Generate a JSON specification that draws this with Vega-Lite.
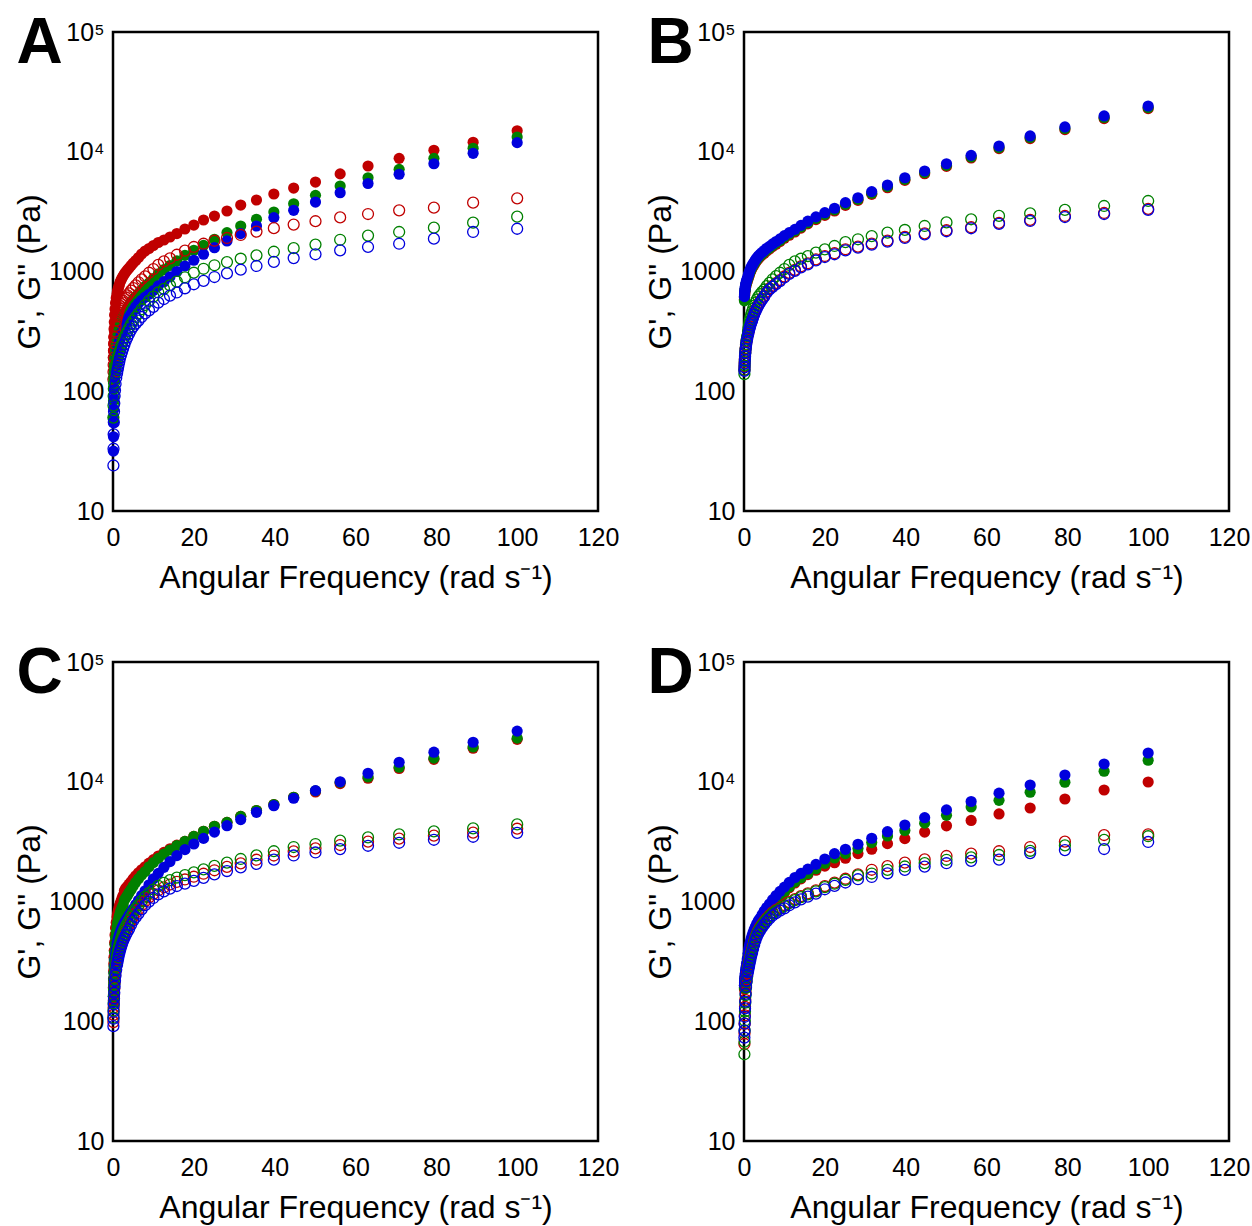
{
"$schema": "https://vega.github.io/schema/vega-lite/v6.json",
"padding": {"left": 12, "top": 10, "right": 0, "bottom": 0},
"background": "white",
"columns": 2,
"spacing": {"row": 45, "column": 22},
"config": {
  "view": {"stroke": "black", "strokeWidth": 2.5},
  "axis": {"domain": false, "ticks": false, "grid": false, "labelFont": "Liberation Sans", "labelFontSize": 25, "labelColor": "black", "titleFont": "Liberation Sans", "titleFontSize": 32, "titleFontWeight": "normal", "titleColor": "black"},
  "axisX": {"labelPadding": 14, "titlePadding": 12, "labelFlush": false},
  "axisY": {"labelPadding": 9, "titlePadding": 2},
  "title": {"font": "Liberation Sans", "fontSize": 64, "fontWeight": "bold", "color": "black", "anchor": "start", "frame": "bounds", "baseline": "top", "offset": -56, "dx": 3}
},
"data": {"values": [
{"panel":"A","omega":0.1,"red_Gp":190,"red_Gpp":126,"green_Gp":60.3,"green_Gpp":60.3,"blue_Gp":31.6,"blue_Gpp":24},
{"panel":"A","omega":0.126,"red_Gp":217,"red_Gpp":145,"green_Gp":83.2,"green_Gpp":75.9,"blue_Gp":41.7,"blue_Gpp":33.1},
{"panel":"A","omega":0.158,"red_Gp":248,"red_Gpp":166,"green_Gp":107,"green_Gpp":91.2,"blue_Gp":55,"blue_Gpp":43.7},
{"panel":"A","omega":0.2,"red_Gp":284,"red_Gpp":191,"green_Gp":129,"green_Gpp":105,"blue_Gp":70.8,"blue_Gpp":55},
{"panel":"A","omega":0.251,"red_Gp":331,"red_Gpp":219,"green_Gp":148,"green_Gpp":117,"blue_Gp":87.1,"blue_Gpp":67.6},
{"panel":"A","omega":0.316,"red_Gp":378,"red_Gpp":251,"green_Gp":166,"green_Gpp":129,"blue_Gp":105,"blue_Gpp":79.4},
{"panel":"A","omega":0.398,"red_Gp":434,"red_Gpp":282,"green_Gp":186,"green_Gpp":140,"blue_Gp":123,"blue_Gpp":91.2},
{"panel":"A","omega":0.501,"red_Gp":486,"red_Gpp":316,"green_Gp":204,"green_Gpp":150,"blue_Gp":141,"blue_Gpp":102},
{"panel":"A","omega":0.631,"red_Gp":546,"red_Gpp":351,"green_Gp":224,"green_Gpp":158,"blue_Gp":162,"blue_Gpp":115},
{"panel":"A","omega":0.794,"red_Gp":601,"red_Gpp":389,"green_Gp":245,"green_Gpp":168,"blue_Gp":182,"blue_Gpp":129},
{"panel":"A","omega":1,"red_Gp":649,"red_Gpp":422,"green_Gp":269,"green_Gpp":178,"blue_Gp":204,"blue_Gpp":141},
{"panel":"A","omega":1.12,"red_Gp":681,"red_Gpp":442,"green_Gp":282,"green_Gpp":186,"blue_Gp":216,"blue_Gpp":150},
{"panel":"A","omega":1.26,"red_Gp":714,"red_Gpp":459,"green_Gp":299,"green_Gpp":195,"blue_Gp":229,"blue_Gpp":158},
{"panel":"A","omega":1.41,"red_Gp":743,"red_Gpp":479,"green_Gp":316,"green_Gpp":204,"blue_Gp":245,"blue_Gpp":168},
{"panel":"A","omega":1.58,"red_Gp":778,"red_Gpp":498,"green_Gp":331,"green_Gpp":214,"blue_Gp":260,"blue_Gpp":178},
{"panel":"A","omega":1.78,"red_Gp":817,"red_Gpp":516,"green_Gp":351,"green_Gpp":224,"blue_Gp":275,"blue_Gpp":191},
{"panel":"A","omega":2,"red_Gp":849,"red_Gpp":535,"green_Gp":372,"green_Gpp":237,"blue_Gp":292,"blue_Gpp":202},
{"panel":"A","omega":2.24,"red_Gp":883,"red_Gpp":552,"green_Gp":394,"green_Gpp":251,"blue_Gp":309,"blue_Gpp":214},
{"panel":"A","omega":2.51,"red_Gp":916,"red_Gpp":570,"green_Gp":417,"green_Gpp":266,"blue_Gp":327,"blue_Gpp":229},
{"panel":"A","omega":2.82,"red_Gp":953,"red_Gpp":589,"green_Gp":442,"green_Gpp":282,"blue_Gp":347,"blue_Gpp":245},
{"panel":"A","omega":3.16,"red_Gp":991,"red_Gpp":607,"green_Gp":462,"green_Gpp":299,"blue_Gp":367,"blue_Gpp":263},
{"panel":"A","omega":3.55,"red_Gp":1030,"red_Gpp":631,"green_Gp":490,"green_Gpp":316,"blue_Gp":389,"blue_Gpp":282},
{"panel":"A","omega":3.98,"red_Gp":1069,"red_Gpp":658,"green_Gp":519,"green_Gpp":339,"blue_Gp":417,"blue_Gpp":302},
{"panel":"A","omega":4.47,"red_Gp":1122,"red_Gpp":692,"green_Gp":550,"green_Gpp":363,"blue_Gp":442,"blue_Gpp":324},
{"panel":"A","omega":5.01,"red_Gp":1178,"red_Gpp":728,"green_Gp":582,"green_Gpp":389,"blue_Gp":473,"blue_Gpp":347},
{"panel":"A","omega":5.62,"red_Gp":1236,"red_Gpp":767,"green_Gp":617,"green_Gpp":417,"blue_Gp":507,"blue_Gpp":367},
{"panel":"A","omega":6.31,"red_Gp":1309,"red_Gpp":813,"green_Gp":653,"green_Gpp":447,"blue_Gp":543,"blue_Gpp":389},
{"panel":"A","omega":7.08,"red_Gp":1400,"red_Gpp":861,"green_Gp":700,"green_Gpp":484,"blue_Gp":575,"blue_Gpp":417},
{"panel":"A","omega":7.94,"red_Gp":1483,"red_Gpp":912,"green_Gp":750,"green_Gpp":525,"blue_Gp":610,"blue_Gpp":447},
{"panel":"A","omega":8.91,"red_Gp":1556,"red_Gpp":977,"green_Gp":804,"green_Gpp":569,"blue_Gp":646,"blue_Gpp":473},
{"panel":"A","omega":10,"red_Gp":1648,"red_Gpp":1047,"green_Gp":871,"green_Gpp":617,"blue_Gp":692,"blue_Gpp":507},
{"panel":"A","omega":11.2,"red_Gp":1746,"red_Gpp":1135,"green_Gp":955,"green_Gpp":668,"blue_Gp":759,"blue_Gpp":550},
{"panel":"A","omega":12.6,"red_Gp":1832,"red_Gpp":1216,"green_Gp":1035,"green_Gpp":716,"blue_Gp":822,"blue_Gpp":589},
{"panel":"A","omega":14.1,"red_Gp":1941,"red_Gpp":1288,"green_Gp":1122,"green_Gpp":767,"blue_Gp":902,"blue_Gpp":628},
{"panel":"A","omega":15.8,"red_Gp":2075,"red_Gpp":1380,"green_Gp":1225,"green_Gpp":822,"blue_Gp":1000,"blue_Gpp":668},
{"panel":"A","omega":17.8,"red_Gp":2265,"red_Gpp":1496,"green_Gp":1365,"green_Gpp":895,"blue_Gp":1112,"blue_Gpp":724},
{"panel":"A","omega":20,"red_Gp":2443,"red_Gpp":1603,"green_Gp":1503,"green_Gpp":977,"blue_Gp":1242,"blue_Gpp":782},
{"panel":"A","omega":22.4,"red_Gp":2692,"red_Gpp":1706,"green_Gp":1656,"green_Gpp":1054,"blue_Gp":1393,"blue_Gpp":834},
{"panel":"A","omega":25.1,"red_Gp":2904,"red_Gpp":1807,"green_Gp":1858,"green_Gpp":1127,"blue_Gp":1581,"blue_Gpp":899},
{"panel":"A","omega":28.2,"red_Gp":3199,"red_Gpp":1905,"green_Gp":2109,"green_Gpp":1199,"blue_Gp":1799,"blue_Gpp":966},
{"panel":"A","omega":31.6,"red_Gp":3589,"red_Gpp":2018,"green_Gp":2399,"green_Gpp":1279,"blue_Gp":2070,"blue_Gpp":1035},
{"panel":"A","omega":35.5,"red_Gp":3954,"red_Gpp":2153,"green_Gp":2729,"green_Gpp":1365,"blue_Gp":2399,"blue_Gpp":1112},
{"panel":"A","omega":39.8,"red_Gp":4436,"red_Gpp":2301,"green_Gp":3141,"green_Gpp":1462,"blue_Gp":2818,"blue_Gpp":1202},
{"panel":"A","omega":44.7,"red_Gp":4977,"red_Gpp":2466,"green_Gp":3681,"green_Gpp":1567,"blue_Gp":3243,"blue_Gpp":1294},
{"panel":"A","omega":50.1,"red_Gp":5585,"red_Gpp":2630,"green_Gp":4325,"green_Gpp":1679,"blue_Gp":3802,"blue_Gpp":1393},
{"panel":"A","omega":56.2,"red_Gp":6531,"red_Gpp":2831,"green_Gp":5176,"green_Gpp":1841,"blue_Gp":4550,"blue_Gpp":1503},
{"panel":"A","omega":63.1,"red_Gp":7603,"red_Gpp":3020,"green_Gp":6067,"green_Gpp":1995,"blue_Gp":5433,"blue_Gpp":1603},
{"panel":"A","omega":70.8,"red_Gp":8810,"red_Gpp":3243,"green_Gp":7129,"green_Gpp":2138,"blue_Gp":6486,"blue_Gpp":1706},
{"panel":"A","omega":79.4,"red_Gp":10280,"red_Gpp":3412,"green_Gp":8810,"green_Gpp":2323,"blue_Gp":7943,"blue_Gpp":1879},
{"panel":"A","omega":89.1,"red_Gp":11990,"red_Gpp":3758,"green_Gp":10690,"green_Gpp":2559,"blue_Gp":9705,"blue_Gpp":2138},
{"panel":"A","omega":100,"red_Gp":14960,"red_Gpp":4083,"green_Gp":13270,"green_Gpp":2871,"blue_Gp":11910,"blue_Gpp":2275},
{"panel":"B","omega":0.1,"red_Gp":586,"red_Gpp":151,"green_Gp":569,"green_Gpp":139,"blue_Gp":617,"blue_Gpp":148},
{"panel":"B","omega":0.126,"red_Gp":609,"red_Gpp":161,"green_Gp":603,"green_Gpp":151,"blue_Gp":641,"blue_Gpp":158},
{"panel":"B","omega":0.158,"red_Gp":632,"red_Gpp":173,"green_Gp":638,"green_Gpp":164,"blue_Gp":665,"blue_Gpp":170},
{"panel":"B","omega":0.2,"red_Gp":657,"red_Gpp":186,"green_Gp":676,"green_Gpp":178,"blue_Gp":692,"blue_Gpp":182},
{"panel":"B","omega":0.251,"red_Gp":683,"red_Gpp":199,"green_Gp":697,"green_Gpp":193,"blue_Gp":719,"blue_Gpp":195},
{"panel":"B","omega":0.316,"red_Gp":709,"red_Gpp":213,"green_Gp":724,"green_Gpp":209,"blue_Gp":746,"blue_Gpp":209},
{"panel":"B","omega":0.398,"red_Gp":737,"red_Gpp":228,"green_Gp":753,"green_Gpp":226,"blue_Gp":776,"blue_Gpp":224},
{"panel":"B","omega":0.501,"red_Gp":767,"red_Gpp":245,"green_Gp":783,"green_Gpp":245,"blue_Gp":807,"blue_Gpp":240},
{"panel":"B","omega":0.631,"red_Gp":796,"red_Gpp":262,"green_Gp":813,"green_Gpp":266,"blue_Gp":838,"blue_Gpp":257},
{"panel":"B","omega":0.794,"red_Gp":827,"red_Gpp":281,"green_Gp":845,"green_Gpp":288,"blue_Gp":871,"blue_Gpp":275},
{"panel":"B","omega":1,"red_Gp":866,"red_Gpp":301,"green_Gp":885,"green_Gpp":316,"blue_Gp":912,"blue_Gpp":295},
{"panel":"B","omega":1.12,"red_Gp":897,"red_Gpp":315,"green_Gp":916,"green_Gpp":339,"blue_Gp":944,"blue_Gpp":309},
{"panel":"B","omega":1.26,"red_Gp":928,"red_Gpp":330,"green_Gp":948,"green_Gpp":363,"blue_Gp":977,"blue_Gpp":324},
{"panel":"B","omega":1.41,"red_Gp":961,"red_Gpp":346,"green_Gp":982,"green_Gpp":389,"blue_Gp":1012,"blue_Gpp":339},
{"panel":"B","omega":1.58,"red_Gp":995,"red_Gpp":362,"green_Gp":1016,"green_Gpp":412,"blue_Gp":1047,"blue_Gpp":355},
{"panel":"B","omega":1.78,"red_Gp":1030,"red_Gpp":379,"green_Gp":1051,"green_Gpp":437,"blue_Gp":1084,"blue_Gpp":372},
{"panel":"B","omega":2,"red_Gp":1066,"red_Gpp":397,"green_Gp":1088,"green_Gpp":462,"blue_Gp":1122,"blue_Gpp":389},
{"panel":"B","omega":2.24,"red_Gp":1103,"red_Gpp":420,"green_Gp":1126,"green_Gpp":490,"blue_Gp":1161,"blue_Gpp":412},
{"panel":"B","omega":2.51,"red_Gp":1142,"red_Gpp":446,"green_Gp":1166,"green_Gpp":519,"blue_Gp":1202,"blue_Gpp":437},
{"panel":"B","omega":2.82,"red_Gp":1188,"red_Gpp":471,"green_Gp":1213,"green_Gpp":550,"blue_Gp":1250,"blue_Gpp":462},
{"panel":"B","omega":3.16,"red_Gp":1232,"red_Gpp":500,"green_Gp":1258,"green_Gpp":582,"blue_Gp":1297,"blue_Gpp":490},
{"panel":"B","omega":3.55,"red_Gp":1279,"red_Gpp":529,"green_Gp":1306,"green_Gpp":617,"blue_Gp":1346,"blue_Gpp":519},
{"panel":"B","omega":3.98,"red_Gp":1326,"red_Gpp":561,"green_Gp":1354,"green_Gpp":646,"blue_Gp":1396,"blue_Gpp":550},
{"panel":"B","omega":4.47,"red_Gp":1373,"red_Gpp":594,"green_Gp":1402,"green_Gpp":676,"blue_Gp":1445,"blue_Gpp":582},
{"panel":"B","omega":5.01,"red_Gp":1421,"red_Gpp":629,"green_Gp":1451,"green_Gpp":708,"blue_Gp":1496,"blue_Gpp":617},
{"panel":"B","omega":5.62,"red_Gp":1485,"red_Gpp":678,"green_Gp":1516,"green_Gpp":755,"blue_Gp":1563,"blue_Gpp":665},
{"panel":"B","omega":6.31,"red_Gp":1541,"red_Gpp":722,"green_Gp":1573,"green_Gpp":804,"blue_Gp":1622,"blue_Gpp":708},
{"panel":"B","omega":7.08,"red_Gp":1613,"red_Gpp":760,"green_Gp":1647,"green_Gpp":861,"blue_Gp":1698,"blue_Gpp":745},
{"panel":"B","omega":7.94,"red_Gp":1689,"red_Gpp":801,"green_Gp":1725,"green_Gpp":916,"blue_Gp":1778,"blue_Gpp":785},
{"panel":"B","omega":8.91,"red_Gp":1777,"red_Gpp":849,"green_Gp":1815,"green_Gpp":977,"blue_Gp":1871,"blue_Gpp":832},
{"panel":"B","omega":10,"red_Gp":1895,"red_Gpp":909,"green_Gp":1935,"green_Gpp":1047,"blue_Gp":1995,"blue_Gpp":891},
{"panel":"B","omega":11.2,"red_Gp":2007,"red_Gpp":974,"green_Gp":2050,"green_Gpp":1135,"blue_Gp":2113,"blue_Gpp":955},
{"panel":"B","omega":12.6,"red_Gp":2137,"red_Gpp":1032,"green_Gp":2182,"green_Gpp":1216,"blue_Gp":2249,"blue_Gpp":1012},
{"panel":"B","omega":14.1,"red_Gp":2306,"red_Gpp":1106,"green_Gp":2354,"green_Gpp":1279,"blue_Gp":2427,"blue_Gpp":1084},
{"panel":"B","omega":15.8,"red_Gp":2499,"red_Gpp":1171,"green_Gp":2551,"green_Gpp":1346,"blue_Gp":2630,"blue_Gpp":1148},
{"panel":"B","omega":17.8,"red_Gp":2715,"red_Gpp":1261,"green_Gp":2772,"green_Gpp":1436,"blue_Gp":2858,"blue_Gpp":1236},
{"panel":"B","omega":20,"red_Gp":2942,"red_Gpp":1347,"green_Gp":3004,"green_Gpp":1531,"blue_Gp":3097,"blue_Gpp":1321},
{"panel":"B","omega":22.4,"red_Gp":3204,"red_Gpp":1421,"green_Gp":3272,"green_Gpp":1633,"blue_Gp":3373,"blue_Gpp":1393},
{"panel":"B","omega":25.1,"red_Gp":3570,"red_Gpp":1533,"green_Gp":3645,"green_Gpp":1758,"blue_Gp":3758,"blue_Gpp":1503},
{"panel":"B","omega":28.2,"red_Gp":3924,"red_Gpp":1613,"green_Gp":4006,"green_Gpp":1858,"blue_Gp":4130,"blue_Gpp":1581},
{"panel":"B","omega":31.6,"red_Gp":4413,"red_Gpp":1713,"green_Gp":4506,"green_Gpp":1977,"blue_Gp":4645,"blue_Gpp":1679},
{"panel":"B","omega":35.5,"red_Gp":5008,"red_Gpp":1814,"green_Gp":5114,"green_Gpp":2109,"blue_Gp":5272,"blue_Gpp":1778},
{"panel":"B","omega":39.8,"red_Gp":5764,"red_Gpp":1943,"green_Gp":5885,"green_Gpp":2223,"blue_Gp":6067,"blue_Gpp":1905},
{"panel":"B","omega":44.7,"red_Gp":6557,"red_Gpp":2083,"green_Gp":6695,"green_Gpp":2399,"blue_Gp":6902,"blue_Gpp":2042},
{"panel":"B","omega":50.1,"red_Gp":7546,"red_Gpp":2211,"green_Gp":7705,"green_Gpp":2570,"blue_Gp":7943,"blue_Gpp":2168},
{"panel":"B","omega":56.2,"red_Gp":8866,"red_Gpp":2342,"green_Gp":9053,"green_Gpp":2729,"blue_Gp":9333,"blue_Gpp":2296},
{"panel":"B","omega":63.1,"red_Gp":10610,"red_Gpp":2545,"green_Gp":10835,"green_Gpp":2911,"blue_Gp":11170,"blue_Gpp":2495},
{"panel":"B","omega":70.8,"red_Gp":12870,"red_Gpp":2695,"green_Gp":13144,"green_Gpp":3055,"blue_Gp":13550,"blue_Gpp":2642},
{"panel":"B","omega":79.4,"red_Gp":15300,"red_Gpp":2908,"green_Gp":15627,"green_Gpp":3266,"blue_Gp":16110,"blue_Gpp":2851},
{"panel":"B","omega":89.1,"red_Gp":18910,"red_Gpp":3080,"green_Gp":19313,"green_Gpp":3524,"blue_Gp":19910,"blue_Gpp":3020},
{"panel":"B","omega":100,"red_Gp":22900,"red_Gpp":3331,"green_Gp":23377,"green_Gpp":3882,"blue_Gp":24100,"blue_Gpp":3266},
{"panel":"C","omega":0.1,"red_Gp":192,"red_Gpp":98.4,"green_Gp":160,"green_Gpp":107,"blue_Gp":143,"blue_Gpp":91},
{"panel":"C","omega":0.126,"red_Gp":226,"red_Gpp":113,"green_Gp":188,"green_Gpp":123,"blue_Gp":162,"blue_Gpp":105},
{"panel":"C","omega":0.158,"red_Gp":263,"red_Gpp":130,"green_Gp":219,"green_Gpp":141,"blue_Gp":182,"blue_Gpp":120},
{"panel":"C","omega":0.2,"red_Gp":302,"red_Gpp":149,"green_Gp":251,"green_Gpp":162,"blue_Gp":204,"blue_Gpp":138},
{"panel":"C","omega":0.251,"red_Gp":343,"red_Gpp":167,"green_Gp":285,"green_Gpp":182,"blue_Gp":229,"blue_Gpp":155},
{"panel":"C","omega":0.316,"red_Gp":389,"red_Gpp":188,"green_Gp":324,"green_Gpp":204,"blue_Gp":257,"blue_Gpp":173},
{"panel":"C","omega":0.398,"red_Gp":452,"red_Gpp":211,"green_Gp":376,"green_Gpp":229,"blue_Gp":288,"blue_Gpp":195},
{"panel":"C","omega":0.501,"red_Gp":525,"red_Gpp":236,"green_Gp":437,"green_Gpp":257,"blue_Gp":324,"blue_Gpp":218},
{"panel":"C","omega":0.631,"red_Gp":602,"red_Gpp":262,"green_Gp":501,"green_Gpp":285,"blue_Gp":363,"blue_Gpp":242},
{"panel":"C","omega":0.794,"red_Gp":668,"red_Gpp":291,"green_Gp":556,"green_Gpp":316,"blue_Gp":398,"blue_Gpp":269},
{"panel":"C","omega":1,"red_Gp":742,"red_Gpp":319,"green_Gp":617,"green_Gpp":347,"blue_Gp":437,"blue_Gpp":295},
{"panel":"C","omega":1.12,"red_Gp":781,"red_Gpp":338,"green_Gp":650,"green_Gpp":367,"blue_Gp":457,"blue_Gpp":312},
{"panel":"C","omega":1.26,"red_Gp":822,"red_Gpp":358,"green_Gp":684,"green_Gpp":389,"blue_Gp":479,"blue_Gpp":331},
{"panel":"C","omega":1.41,"red_Gp":864,"red_Gpp":379,"green_Gp":719,"green_Gpp":412,"blue_Gp":501,"blue_Gpp":350},
{"panel":"C","omega":1.58,"red_Gp":912,"red_Gpp":402,"green_Gp":759,"green_Gpp":437,"blue_Gp":525,"blue_Gpp":371},
{"panel":"C","omega":1.78,"red_Gp":962,"red_Gpp":425,"green_Gp":800,"green_Gpp":462,"blue_Gp":550,"blue_Gpp":393},
{"panel":"C","omega":2,"red_Gp":1011,"red_Gpp":451,"green_Gp":841,"green_Gpp":490,"blue_Gp":575,"blue_Gpp":417},
{"panel":"C","omega":2.24,"red_Gp":1066,"red_Gpp":477,"green_Gp":887,"green_Gpp":519,"blue_Gp":603,"blue_Gpp":441},
{"panel":"C","omega":2.51,"red_Gp":1121,"red_Gpp":506,"green_Gp":933,"green_Gpp":550,"blue_Gp":631,"blue_Gpp":468},
{"panel":"C","omega":2.82,"red_Gp":1230,"red_Gpp":535,"green_Gp":1023,"green_Gpp":582,"blue_Gp":661,"blue_Gpp":495},
{"panel":"C","omega":3.16,"red_Gp":1289,"red_Gpp":568,"green_Gp":1072,"green_Gpp":617,"blue_Gp":692,"blue_Gpp":524},
{"panel":"C","omega":3.55,"red_Gp":1334,"red_Gpp":601,"green_Gp":1122,"green_Gpp":653,"blue_Gp":724,"blue_Gpp":555},
{"panel":"C","omega":3.98,"red_Gp":1397,"red_Gpp":637,"green_Gp":1189,"green_Gpp":692,"blue_Gp":767,"blue_Gpp":588},
{"panel":"C","omega":4.47,"red_Gp":1462,"red_Gpp":690,"green_Gp":1259,"green_Gpp":750,"blue_Gp":813,"blue_Gpp":638},
{"panel":"C","omega":5.01,"red_Gp":1549,"red_Gpp":748,"green_Gp":1349,"green_Gpp":813,"blue_Gp":871,"blue_Gpp":691},
{"panel":"C","omega":5.62,"red_Gp":1640,"red_Gpp":801,"green_Gp":1445,"green_Gpp":871,"blue_Gp":944,"blue_Gpp":740},
{"panel":"C","omega":6.31,"red_Gp":1738,"red_Gpp":858,"green_Gp":1549,"green_Gpp":933,"blue_Gp":1023,"blue_Gpp":793},
{"panel":"C","omega":7.08,"red_Gp":1841,"red_Gpp":931,"green_Gp":1660,"green_Gpp":1012,"blue_Gp":1122,"blue_Gpp":860},
{"panel":"C","omega":7.94,"red_Gp":1949,"red_Gpp":1008,"green_Gp":1778,"green_Gpp":1096,"blue_Gp":1230,"blue_Gpp":932},
{"panel":"C","omega":8.91,"red_Gp":2090,"red_Gpp":1081,"green_Gp":1950,"green_Gpp":1175,"blue_Gp":1380,"blue_Gpp":999},
{"panel":"C","omega":10,"red_Gp":2238,"red_Gpp":1158,"green_Gp":2113,"green_Gpp":1259,"blue_Gp":1549,"blue_Gpp":1070},
{"panel":"C","omega":11.2,"red_Gp":2399,"red_Gpp":1241,"green_Gp":2291,"green_Gpp":1349,"blue_Gp":1718,"blue_Gpp":1147},
{"panel":"C","omega":12.6,"red_Gp":2570,"red_Gpp":1315,"green_Gp":2483,"green_Gpp":1429,"blue_Gp":1928,"blue_Gpp":1215},
{"panel":"C","omega":14.1,"red_Gp":2754,"red_Gpp":1386,"green_Gp":2692,"green_Gpp":1507,"blue_Gp":2153,"blue_Gpp":1281},
{"panel":"C","omega":15.8,"red_Gp":2959,"red_Gpp":1458,"green_Gp":2924,"green_Gpp":1585,"blue_Gp":2415,"blue_Gpp":1347},
{"panel":"C","omega":17.8,"red_Gp":3177,"red_Gpp":1527,"green_Gp":3177,"green_Gpp":1660,"blue_Gp":2710,"blue_Gpp":1411},
{"panel":"C","omega":20,"red_Gp":3499,"red_Gpp":1610,"green_Gp":3499,"green_Gpp":1750,"blue_Gp":3020,"blue_Gpp":1488},
{"panel":"C","omega":22.4,"red_Gp":3855,"red_Gpp":1706,"green_Gp":3855,"green_Gpp":1854,"blue_Gp":3365,"blue_Gpp":1576},
{"panel":"C","omega":25.1,"red_Gp":4246,"red_Gpp":1823,"green_Gp":4246,"green_Gpp":1982,"blue_Gp":3802,"blue_Gpp":1685},
{"panel":"C","omega":28.2,"red_Gp":4581,"red_Gpp":1944,"green_Gp":4581,"green_Gpp":2113,"blue_Gp":4295,"blue_Gpp":1796},
{"panel":"C","omega":31.6,"red_Gp":5140,"red_Gpp":2084,"green_Gp":5140,"green_Gpp":2265,"blue_Gp":4831,"blue_Gpp":1925},
{"panel":"C","omega":35.5,"red_Gp":5754,"red_Gpp":2233,"green_Gp":5754,"green_Gpp":2427,"blue_Gp":5559,"blue_Gpp":2063},
{"panel":"C","omega":39.8,"red_Gp":6457,"red_Gpp":2420,"green_Gp":6457,"green_Gpp":2630,"blue_Gp":6310,"blue_Gpp":2236},
{"panel":"C","omega":44.7,"red_Gp":7413,"red_Gpp":2623,"green_Gp":7413,"green_Gpp":2851,"blue_Gp":7278,"blue_Gpp":2423},
{"panel":"C","omega":50.1,"red_Gp":8221,"red_Gpp":2778,"green_Gp":8414,"green_Gpp":3020,"blue_Gp":8433,"blue_Gpp":2567},
{"panel":"C","omega":56.2,"red_Gp":9659,"red_Gpp":2963,"green_Gp":9886,"green_Gpp":3221,"blue_Gp":10000,"blue_Gpp":2738},
{"panel":"C","omega":63.1,"red_Gp":10710,"red_Gpp":3161,"green_Gp":10960,"green_Gpp":3436,"blue_Gp":11780,"blue_Gpp":2921},
{"panel":"C","omega":70.8,"red_Gp":12910,"red_Gpp":3348,"green_Gp":13210,"green_Gpp":3639,"blue_Gp":14550,"blue_Gpp":3093},
{"panel":"C","omega":79.4,"red_Gp":15380,"red_Gpp":3547,"green_Gp":15740,"green_Gpp":3855,"blue_Gp":17660,"blue_Gpp":3277},
{"panel":"C","omega":89.1,"red_Gp":19050,"red_Gpp":3756,"green_Gp":19500,"green_Gpp":4083,"blue_Gp":21380,"blue_Gpp":3471},
{"panel":"C","omega":100,"red_Gp":22590,"red_Gpp":4054,"green_Gp":23120,"green_Gpp":4406,"blue_Gp":26490,"blue_Gpp":3745},
{"panel":"D","omega":0.1,"red_Gp":186,"red_Gpp":64.6,"green_Gp":190,"green_Gpp":53,"blue_Gp":200,"blue_Gpp":73},
{"panel":"D","omega":0.126,"red_Gp":194,"red_Gpp":79.4,"green_Gp":199,"green_Gpp":67.5,"blue_Gp":209,"blue_Gpp":83.4},
{"panel":"D","omega":0.158,"red_Gp":204,"red_Gpp":95.5,"green_Gp":208,"green_Gpp":84,"blue_Gp":219,"blue_Gpp":95.5},
{"panel":"D","omega":0.2,"red_Gp":213,"red_Gpp":112,"green_Gp":218,"green_Gpp":101,"blue_Gp":229,"blue_Gpp":109},
{"panel":"D","omega":0.251,"red_Gp":223,"red_Gpp":132,"green_Gp":228,"green_Gpp":121,"blue_Gp":240,"blue_Gpp":128},
{"panel":"D","omega":0.316,"red_Gp":233,"red_Gpp":151,"green_Gp":238,"green_Gpp":143,"blue_Gp":251,"blue_Gpp":146},
{"panel":"D","omega":0.398,"red_Gp":247,"red_Gpp":174,"green_Gp":253,"green_Gpp":165,"blue_Gp":266,"blue_Gpp":169},
{"panel":"D","omega":0.501,"red_Gp":262,"red_Gpp":200,"green_Gp":268,"green_Gpp":190,"blue_Gp":282,"blue_Gpp":194},
{"panel":"D","omega":0.631,"red_Gp":281,"red_Gpp":224,"green_Gp":287,"green_Gpp":213,"blue_Gp":302,"blue_Gpp":217},
{"panel":"D","omega":0.794,"red_Gp":308,"red_Gpp":251,"green_Gp":314,"green_Gpp":238,"blue_Gp":331,"blue_Gpp":243},
{"panel":"D","omega":1,"red_Gp":330,"red_Gpp":275,"green_Gp":349,"green_Gpp":270,"blue_Gp":367,"blue_Gpp":259},
{"panel":"D","omega":1.12,"red_Gp":350,"red_Gpp":292,"green_Gp":370,"green_Gpp":286,"blue_Gp":389,"blue_Gpp":274},
{"panel":"D","omega":1.26,"red_Gp":371,"red_Gpp":309,"green_Gp":391,"green_Gpp":303,"blue_Gp":412,"blue_Gpp":290},
{"panel":"D","omega":1.41,"red_Gp":393,"red_Gpp":327,"green_Gp":415,"green_Gpp":320,"blue_Gp":437,"blue_Gpp":307},
{"panel":"D","omega":1.58,"red_Gp":416,"red_Gpp":347,"green_Gp":439,"green_Gpp":340,"blue_Gp":462,"blue_Gpp":326},
{"panel":"D","omega":1.78,"red_Gp":441,"red_Gpp":372,"green_Gp":466,"green_Gpp":365,"blue_Gp":490,"blue_Gpp":350},
{"panel":"D","omega":2,"red_Gp":467,"red_Gpp":398,"green_Gp":493,"green_Gpp":390,"blue_Gp":519,"blue_Gpp":374},
{"panel":"D","omega":2.24,"red_Gp":495,"red_Gpp":427,"green_Gp":523,"green_Gpp":418,"blue_Gp":550,"blue_Gpp":401},
{"panel":"D","omega":2.51,"red_Gp":524,"red_Gpp":462,"green_Gp":553,"green_Gpp":453,"blue_Gp":582,"blue_Gpp":434},
{"panel":"D","omega":2.82,"red_Gp":555,"red_Gpp":501,"green_Gp":586,"green_Gpp":491,"blue_Gp":617,"blue_Gpp":471},
{"panel":"D","omega":3.16,"red_Gp":588,"red_Gpp":537,"green_Gp":620,"green_Gpp":526,"blue_Gp":653,"blue_Gpp":505},
{"panel":"D","omega":3.55,"red_Gp":623,"red_Gpp":575,"green_Gp":657,"green_Gpp":564,"blue_Gp":692,"blue_Gpp":541},
{"panel":"D","omega":3.98,"red_Gp":652,"red_Gpp":610,"green_Gp":688,"green_Gpp":598,"blue_Gp":724,"blue_Gpp":573},
{"panel":"D","omega":4.47,"red_Gp":698,"red_Gpp":646,"green_Gp":737,"green_Gpp":633,"blue_Gp":776,"blue_Gpp":607},
{"panel":"D","omega":5.01,"red_Gp":749,"red_Gpp":684,"green_Gp":790,"green_Gpp":670,"blue_Gp":832,"blue_Gpp":643},
{"panel":"D","omega":5.62,"red_Gp":802,"red_Gpp":724,"green_Gp":846,"green_Gpp":710,"blue_Gp":891,"blue_Gpp":681},
{"panel":"D","omega":6.31,"red_Gp":860,"red_Gpp":767,"green_Gp":907,"green_Gpp":752,"blue_Gp":955,"blue_Gpp":721},
{"panel":"D","omega":7.08,"red_Gp":932,"red_Gpp":813,"green_Gp":983,"green_Gpp":797,"blue_Gp":1035,"blue_Gpp":764},
{"panel":"D","omega":7.94,"red_Gp":1010,"red_Gpp":851,"green_Gp":1066,"green_Gpp":834,"blue_Gp":1122,"blue_Gpp":800},
{"panel":"D","omega":8.91,"red_Gp":1094,"red_Gpp":891,"green_Gp":1155,"green_Gpp":873,"blue_Gp":1216,"blue_Gpp":838},
{"panel":"D","omega":10,"red_Gp":1186,"red_Gpp":933,"green_Gp":1213,"green_Gpp":914,"blue_Gp":1318,"blue_Gpp":877},
{"panel":"D","omega":11.2,"red_Gp":1301,"red_Gpp":989,"green_Gp":1329,"green_Gpp":969,"blue_Gp":1445,"blue_Gpp":930},
{"panel":"D","omega":12.6,"red_Gp":1427,"red_Gpp":1047,"green_Gp":1458,"green_Gpp":1026,"blue_Gp":1585,"blue_Gpp":984},
{"panel":"D","omega":14.1,"red_Gp":1546,"red_Gpp":1109,"green_Gp":1581,"green_Gpp":1087,"blue_Gp":1718,"blue_Gpp":1042},
{"panel":"D","omega":15.8,"red_Gp":1676,"red_Gpp":1169,"green_Gp":1713,"green_Gpp":1146,"blue_Gp":1862,"blue_Gpp":1099},
{"panel":"D","omega":17.8,"red_Gp":1824,"red_Gpp":1239,"green_Gp":1879,"green_Gpp":1214,"blue_Gp":2042,"blue_Gpp":1165},
{"panel":"D","omega":20,"red_Gp":1977,"red_Gpp":1346,"green_Gp":2084,"green_Gpp":1319,"blue_Gp":2265,"blue_Gpp":1265},
{"panel":"D","omega":22.4,"red_Gp":2109,"red_Gpp":1436,"green_Gp":2311,"green_Gpp":1407,"blue_Gp":2512,"blue_Gpp":1350},
{"panel":"D","omega":25.1,"red_Gp":2296,"red_Gpp":1549,"green_Gp":2511,"green_Gpp":1518,"blue_Gp":2729,"blue_Gpp":1441},
{"panel":"D","omega":28.2,"red_Gp":2512,"red_Gpp":1687,"green_Gp":2766,"green_Gpp":1653,"blue_Gp":3006,"blue_Gpp":1535},
{"panel":"D","omega":31.6,"red_Gp":2735,"red_Gpp":1841,"green_Gp":3103,"green_Gpp":1712,"blue_Gp":3373,"blue_Gpp":1602},
{"panel":"D","omega":35.5,"red_Gp":3041,"red_Gpp":1977,"green_Gp":3522,"green_Gpp":1839,"blue_Gp":3828,"blue_Gpp":1720},
{"panel":"D","omega":39.8,"red_Gp":3350,"red_Gpp":2109,"green_Gp":3920,"green_Gpp":1961,"blue_Gp":4355,"blue_Gpp":1835},
{"panel":"D","omega":44.7,"red_Gp":3802,"red_Gpp":2249,"green_Gp":4511,"green_Gpp":2092,"blue_Gp":5012,"blue_Gpp":1957},
{"panel":"D","omega":50.1,"red_Gp":4285,"red_Gpp":2399,"green_Gp":5239,"green_Gpp":2231,"blue_Gp":5821,"blue_Gpp":2087},
{"panel":"D","omega":56.2,"red_Gp":4753,"red_Gpp":2512,"green_Gp":6155,"green_Gpp":2336,"blue_Gp":6839,"blue_Gpp":2185},
{"panel":"D","omega":63.1,"red_Gp":5383,"red_Gpp":2630,"green_Gp":6990,"green_Gpp":2446,"blue_Gp":8035,"blue_Gpp":2236},
{"panel":"D","omega":70.8,"red_Gp":6039,"red_Gpp":2851,"green_Gp":8175,"green_Gpp":2651,"blue_Gp":9397,"blue_Gpp":2537},
{"panel":"D","omega":79.4,"red_Gp":7178,"red_Gpp":3162,"green_Gp":9901,"green_Gpp":2941,"blue_Gp":11380,"blue_Gpp":2688},
{"panel":"D","omega":89.1,"red_Gp":8531,"red_Gpp":3589,"green_Gp":12230,"green_Gpp":3273,"blue_Gp":14060,"blue_Gpp":2742},
{"panel":"D","omega":100,"red_Gp":9954,"red_Gpp":3631,"green_Gp":15120,"green_Gpp":3508,"blue_Gp":17380,"blue_Gpp":3141}
]},
"concat": [
 {"width": 485, "height": 479, "title": {"text": "A"},
  "transform": [{"filter": "datum.panel === 'A'"}],
  "encoding": {
   "x": {"field": "omega", "type": "quantitative", "scale": {"domain": [0, 120], "nice": false}, "axis": {"values": [0, 20, 40, 60, 80, 100, 120], "title": "Angular Frequency (rad s⁻¹)"}},
   "y": {"field": "G", "type": "quantitative", "scale": {"type": "log", "domain": [10, 100000], "nice": false}, "axis": {"values": [10, 100, 1000, 10000, 100000], "labelExpr": "datum.value == 10000 ? '10⁴' : datum.value == 100000 ? '10⁵' : format(datum.value, 'd')", "title": "G', G'' (Pa)"}},
   "color": {"field": "series", "type": "nominal", "scale": {"domain": ["red_Gp", "green_Gp", "blue_Gp", "red_Gpp", "green_Gpp", "blue_Gpp"], "range": ["#c00000", "#008000", "#0000dd", "#c00000", "#008000", "#0000dd"]}, "legend": null},
   "order": {"field": "series", "sort": "descending"}
  },
  "layer": [
   {"transform": [{"fold": ["red_Gp", "green_Gp", "blue_Gp"], "as": ["series", "G"]}], "mark": {"type": "point", "filled": true, "size": 125, "opacity": 1}},
   {"transform": [{"fold": ["red_Gpp", "green_Gpp", "blue_Gpp"], "as": ["series", "G"]}], "mark": {"type": "point", "filled": false, "size": 120, "strokeWidth": 1.3, "opacity": 1}}
  ]},
 {"width": 485, "height": 479, "title": {"text": "B"},
  "transform": [{"filter": "datum.panel === 'B'"}],
  "encoding": {
   "x": {"field": "omega", "type": "quantitative", "scale": {"domain": [0, 120], "nice": false}, "axis": {"values": [0, 20, 40, 60, 80, 100, 120], "title": "Angular Frequency (rad s⁻¹)"}},
   "y": {"field": "G", "type": "quantitative", "scale": {"type": "log", "domain": [10, 100000], "nice": false}, "axis": {"values": [10, 100, 1000, 10000, 100000], "labelExpr": "datum.value == 10000 ? '10⁴' : datum.value == 100000 ? '10⁵' : format(datum.value, 'd')", "title": "G', G'' (Pa)"}},
   "color": {"field": "series", "type": "nominal", "scale": {"domain": ["red_Gp", "green_Gp", "blue_Gp", "red_Gpp", "green_Gpp", "blue_Gpp"], "range": ["#c00000", "#008000", "#0000dd", "#c00000", "#008000", "#0000dd"]}, "legend": null},
   "order": {"field": "series", "sort": "descending"}
  },
  "layer": [
   {"transform": [{"fold": ["red_Gp", "green_Gp", "blue_Gp"], "as": ["series", "G"]}], "mark": {"type": "point", "filled": true, "size": 125, "opacity": 1}},
   {"transform": [{"fold": ["red_Gpp", "green_Gpp", "blue_Gpp"], "as": ["series", "G"]}], "mark": {"type": "point", "filled": false, "size": 120, "strokeWidth": 1.3, "opacity": 1}}
  ]},
 {"width": 485, "height": 479, "title": {"text": "C"},
  "transform": [{"filter": "datum.panel === 'C'"}],
  "encoding": {
   "x": {"field": "omega", "type": "quantitative", "scale": {"domain": [0, 120], "nice": false}, "axis": {"values": [0, 20, 40, 60, 80, 100, 120], "title": "Angular Frequency (rad s⁻¹)"}},
   "y": {"field": "G", "type": "quantitative", "scale": {"type": "log", "domain": [10, 100000], "nice": false}, "axis": {"values": [10, 100, 1000, 10000, 100000], "labelExpr": "datum.value == 10000 ? '10⁴' : datum.value == 100000 ? '10⁵' : format(datum.value, 'd')", "title": "G', G'' (Pa)"}},
   "color": {"field": "series", "type": "nominal", "scale": {"domain": ["red_Gp", "green_Gp", "blue_Gp", "red_Gpp", "green_Gpp", "blue_Gpp"], "range": ["#c00000", "#008000", "#0000dd", "#c00000", "#008000", "#0000dd"]}, "legend": null},
   "order": {"field": "series", "sort": "descending"}
  },
  "layer": [
   {"transform": [{"fold": ["red_Gp", "green_Gp", "blue_Gp"], "as": ["series", "G"]}], "mark": {"type": "point", "filled": true, "size": 125, "opacity": 1}},
   {"transform": [{"fold": ["red_Gpp", "green_Gpp", "blue_Gpp"], "as": ["series", "G"]}], "mark": {"type": "point", "filled": false, "size": 120, "strokeWidth": 1.3, "opacity": 1}}
  ]},
 {"width": 485, "height": 479, "title": {"text": "D"},
  "transform": [{"filter": "datum.panel === 'D'"}],
  "encoding": {
   "x": {"field": "omega", "type": "quantitative", "scale": {"domain": [0, 120], "nice": false}, "axis": {"values": [0, 20, 40, 60, 80, 100, 120], "title": "Angular Frequency (rad s⁻¹)"}},
   "y": {"field": "G", "type": "quantitative", "scale": {"type": "log", "domain": [10, 100000], "nice": false}, "axis": {"values": [10, 100, 1000, 10000, 100000], "labelExpr": "datum.value == 10000 ? '10⁴' : datum.value == 100000 ? '10⁵' : format(datum.value, 'd')", "title": "G', G'' (Pa)"}},
   "color": {"field": "series", "type": "nominal", "scale": {"domain": ["red_Gp", "green_Gp", "blue_Gp", "red_Gpp", "green_Gpp", "blue_Gpp"], "range": ["#c00000", "#008000", "#0000dd", "#c00000", "#008000", "#0000dd"]}, "legend": null},
   "order": {"field": "series", "sort": "descending"}
  },
  "layer": [
   {"transform": [{"fold": ["red_Gp", "green_Gp", "blue_Gp"], "as": ["series", "G"]}], "mark": {"type": "point", "filled": true, "size": 125, "opacity": 1}},
   {"transform": [{"fold": ["red_Gpp", "green_Gpp", "blue_Gpp"], "as": ["series", "G"]}], "mark": {"type": "point", "filled": false, "size": 120, "strokeWidth": 1.3, "opacity": 1}}
  ]}
]
}
